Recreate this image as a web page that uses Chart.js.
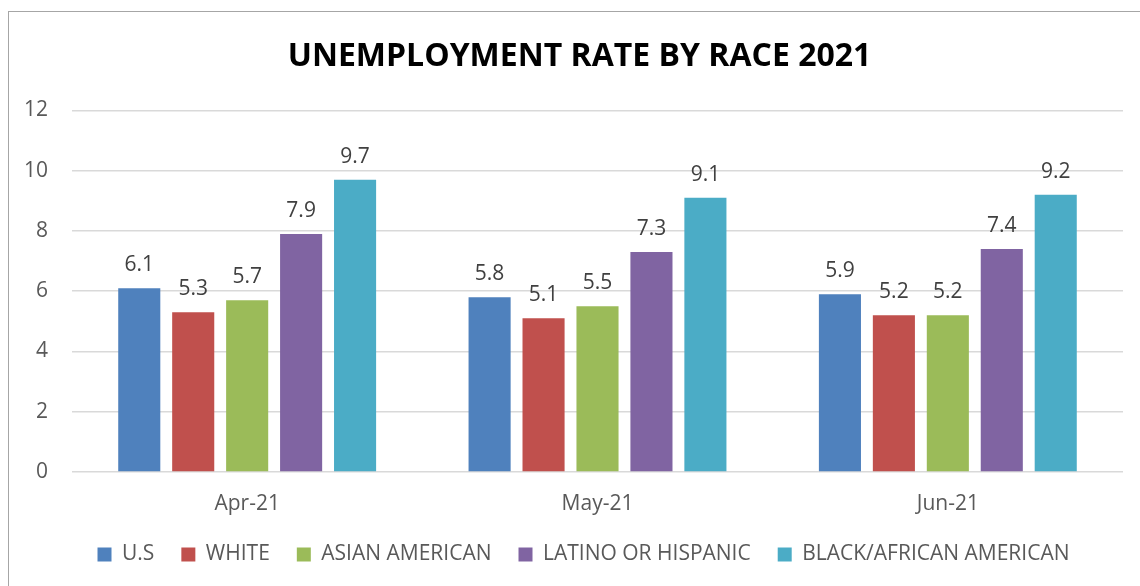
<!DOCTYPE html>
<html>
<head>
<meta charset="utf-8">
<script src="https://cdn.jsdelivr.net/npm/chart.js@4"></script>
<style>
  html, body { margin: 0; padding: 0; background: #fff; overflow: hidden; }
  #wrap { position: relative; width: 1140px; height: 586px; }
  #frame { position: absolute; left: 8px; top: 11px; width: 1200px; height: 650px;
           border-left: 1px solid #a6a6a6; border-top: 1px solid #a6a6a6; }
  canvas { position: absolute; left: 0; top: 0; }
</style>
</head>
<body>
<div id="wrap">
  <div id="frame"></div>
  <canvas id="chart" width="1140" height="586"></canvas>
</div>
<script>
// Categories and series
const months = ["Apr-21", "May-21", "Jun-21"];
const usRate = [6.1, 5.8, 5.9];
const whiteRate = [5.3, 5.1, 5.2];
const asianRate = [5.7, 5.5, 5.2];
const latinoRate = [7.9, 7.3, 7.4];
const blackRate = [9.7, 9.1, 9.2];

const FONT = "'Open Sans', Lato, sans-serif";

// Draw value labels above each bar
const valueLabels = {
  id: "valueLabels",
  afterDatasetsDraw(chart) {
    const ctx = chart.ctx;
    ctx.save();
    ctx.font = "21px " + FONT;
    ctx.fillStyle = "#404040";
    ctx.textAlign = "center";
    ctx.textBaseline = "alphabetic";
    chart.data.datasets.forEach((ds, i) => {
      chart.getDatasetMeta(i).data.forEach((bar, j) => {
        ctx.fillText(ds.data[j].toFixed(1), bar.x, bar.y - 17);
      });
    });
    ctx.restore();
  }
};

// Title and legend sit a little right of the canvas centre in the original
const nudgeBoxes = {
  id: "nudgeBoxes",
  afterLayout(chart) {
    chart.titleBlock.left += 18;
    chart.titleBlock.right += 18;
    chart.legend.left += 22;
    chart.legend.right += 22;
  }
};

function series(label, data, color) {
  return { label: label, data: data, backgroundColor: color, borderWidth: 0 };
}

new Chart(document.getElementById("chart").getContext("2d"), {
  type: "bar",
  data: {
    labels: months,
    datasets: [
      series("U.S", usRate, "#4f81bd"),
      series("WHITE", whiteRate, "#c0504d"),
      series("ASIAN AMERICAN", asianRate, "#9bbb59"),
      series("LATINO OR HISPANIC", latinoRate, "#8064a2"),
      series("BLACK/AFRICAN AMERICAN", blackRate, "#4bacc6")
    ]
  },
  options: {
    responsive: false,
    animation: false,
    categoryPercentage: 0.77,
    barPercentage: 0.78,
    layout: { padding: { left: 0, right: 17, top: 38, bottom: 11 } },
    plugins: {
      title: {
        display: true,
        text: "UNEMPLOYMENT RATE BY RACE 2021",
        color: "#000",
        font: { family: FONT, size: 32, weight: "bold" },
        padding: { top: 0, bottom: 34 }
      },
      legend: {
        position: "bottom",
        labels: {
          color: "#595959",
          font: { family: FONT, size: 21 },
          boxWidth: 14,
          boxHeight: 14,
          padding: 27
        }
      },
      tooltip: { enabled: false }
    },
    scales: {
      y: {
        min: 0,
        max: 12,
        ticks: {
          stepSize: 2,
          color: "#595959",
          font: { family: FONT, size: 21 },
          padding: 24
        },
        grid: { color: "#d9d9d9", lineWidth: 1.5, drawTicks: false },
        border: { display: false },
        afterFit: s => { s.width = 72; }
      },
      x: {
        ticks: {
          color: "#595959",
          font: { family: FONT, size: 21 },
          padding: 19
        },
        grid: { display: false, drawTicks: false },
        border: { display: false },
        afterFit: s => { s.height = 45; }
      }
    }
  },
  plugins: [valueLabels, nudgeBoxes]
});
</script>
</body>
</html>
